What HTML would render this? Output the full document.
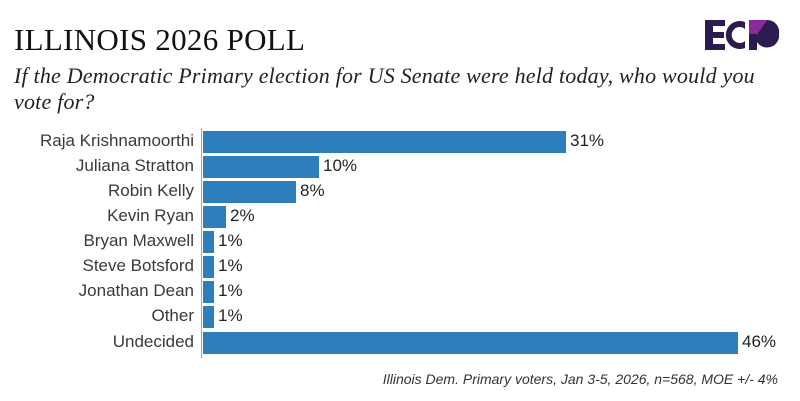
<!DOCTYPE html>
<html><head><style>
body{margin:0;width:800px;height:401px;background:#fff;overflow:hidden;position:relative;font-family:"Liberation Sans",sans-serif}
.t{position:absolute;left:14px;top:22px;font-family:"Liberation Serif",serif;font-size:31px;color:#111;letter-spacing:0.3px}
.s{position:absolute;left:14px;top:63px;white-space:nowrap;font-family:"Liberation Serif",serif;font-style:italic;font-size:22px;line-height:26px;color:#222;letter-spacing:0.2px}
.l{position:absolute;right:606px;font-size:17px;color:#3a3a3a;text-align:right;white-space:nowrap}
.b{position:absolute;left:203px;height:22px;background:#2e7ebb}
.v{position:absolute;font-size:17px;color:#222}
.ax{position:absolute;left:201px;top:128px;width:1px;height:230px;background:#aaa}
.f{position:absolute;right:22px;top:371px;font-style:italic;font-size:14px;color:#333}
</style></head><body>
<div class="t">ILLINOIS 2026 POLL</div>
<div class="s">If the Democratic Primary election for US Senate were held today, who would you<br>vote for?</div>
<svg style="position:absolute;left:705px;top:18px" width="80" height="34" viewBox="0 0 80 34">
<path d="M0 2h20v6H8v6h11v6H8v6h12v6H0z" fill="#2b1b4e"/>
<path d="M40 4a14 14 0 1 0 0 26v-7a8 8 0 1 1 0-12z" fill="#2b1b4e"/>
<path d="M44 2h18l-10 14h-8z" fill="#8a2a9a"/>
<path d="M44 16h8l10-14a12 12 0 0 1 12 14z" fill="#2b1b4e"/>
<path d="M74 16a12 12 0 0 1-22 8v8h-8V16z" fill="#2b1b4e"/>
</svg>
<div class="ax"></div>
<div class="l" style="top:131px">Raja Krishnamoorthi</div><div class="b" style="top:131px;width:363px"></div><div class="v" style="left:570px;top:131px">31%</div>
<div class="l" style="top:156px">Juliana Stratton</div><div class="b" style="top:156px;width:116px"></div><div class="v" style="left:323px;top:156px">10%</div>
<div class="l" style="top:181px">Robin Kelly</div><div class="b" style="top:181px;width:93px"></div><div class="v" style="left:300px;top:181px">8%</div>
<div class="l" style="top:206px">Kevin Ryan</div><div class="b" style="top:206px;width:23px"></div><div class="v" style="left:230px;top:206px">2%</div>
<div class="l" style="top:231px">Bryan Maxwell</div><div class="b" style="top:231px;width:11px"></div><div class="v" style="left:218px;top:231px">1%</div>
<div class="l" style="top:256px">Steve Botsford</div><div class="b" style="top:256px;width:11px"></div><div class="v" style="left:218px;top:256px">1%</div>
<div class="l" style="top:281px">Jonathan Dean</div><div class="b" style="top:281px;width:11px"></div><div class="v" style="left:218px;top:281px">1%</div>
<div class="l" style="top:306px">Other</div><div class="b" style="top:306px;width:11px"></div><div class="v" style="left:218px;top:306px">1%</div>
<div class="l" style="top:332px">Undecided</div><div class="b" style="top:332px;width:535px"></div><div class="v" style="left:742px;top:332px">46%</div>
<div class="f">Illinois Dem. Primary voters, Jan 3-5, 2026, n=568, MOE +/- 4%</div>
</body></html>
